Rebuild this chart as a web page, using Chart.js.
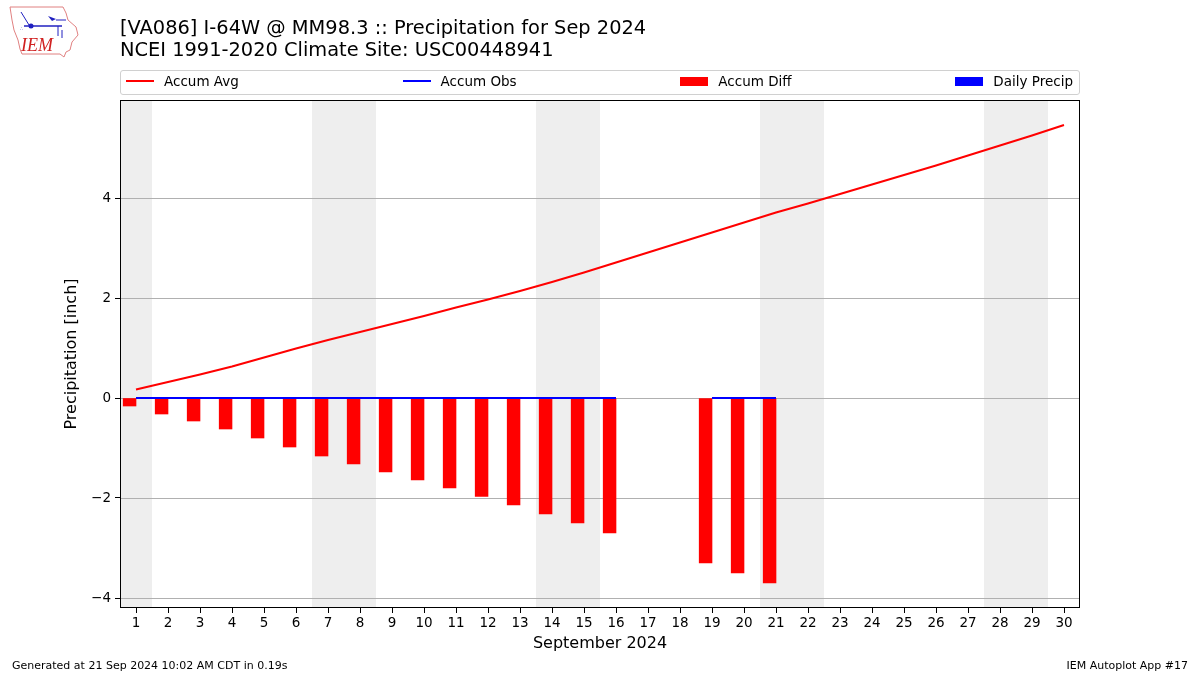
<!DOCTYPE html>
<html>
<head>
<meta charset="utf-8">
<script src="https://cdn.jsdelivr.net/npm/chart.js@4.4.1/dist/chart.umd.min.js"></script>
<style>
  body { margin: 0; background: #fff; font-family: "DejaVu Sans", sans-serif; }
  #wrap { position: relative; width: 1200px; height: 675px; overflow: hidden; }
  #chart { position: absolute; left: 0; top: 0; }
  .title { position: absolute; left: 120px; font-size: 19.4px; color: #000; white-space: nowrap; }
  #legend {
    position: absolute; left: 120px; top: 70px; width: 960px; height: 25px; box-sizing: border-box;
    border: 1px solid #d0d0d0; border-radius: 3px; display: flex; justify-content: space-between;
    align-items: center; padding: 0 6px 3px 5px; font-size: 13.5px;
  }
  .item { display: flex; align-items: center; }
  .line { width: 28px; height: 2px; margin-right: 10px; }
  .patch { width: 28px; height: 9px; margin-right: 10px; }
  .foot { position: absolute; top: 659px; font-size: 11px; color: #000; white-space: nowrap; }
</style>
</head>
<body>
<div id="wrap">
  <canvas id="chart" width="1200" height="675"></canvas>
  <svg style="position:absolute;left:0;top:0" width="90" height="62">
    <polygon points="10,7 63,7 66,13 68,20 76,27 78,35 72,42 70,50 66,52 64,57 60,54 22,54 20,49 18,40 14,30 12,20"
      fill="none" stroke="#e08080" stroke-width="1"/>
    <line x1="24" y1="26" x2="62" y2="26" stroke="#2020c0" stroke-width="1.5"/>
    <circle cx="31" cy="26" r="2.5" fill="#2020c0"/>
    <line x1="21" y1="12" x2="29" y2="25" stroke="#2020c0" stroke-width="1"/>
    <path d="M48,16 L56,19 L52,21 Z" fill="#2020c0"/>
    <line x1="56" y1="20" x2="66" y2="20" stroke="#2020c0" stroke-width="1"/>
    <line x1="58" y1="26" x2="58" y2="36" stroke="#2020c0" stroke-width="1"/>
    <line x1="62" y1="30" x2="62" y2="38" stroke="#2020c0" stroke-width="1"/>
    <text x="20" y="30" font-size="5" fill="#2020c0">&#8756;</text>
    <text x="21" y="51" font-family="Liberation Serif, serif" font-style="italic" font-size="18" fill="#d02020">IEM</text>
  </svg>
  <div class="title" style="top:16px">[VA086] I-64W @ MM98.3 :: Precipitation for Sep 2024</div>
  <div class="title" style="top:38px">NCEI 1991-2020 Climate Site: USC00448941</div>
  <div id="legend">
    <div class="item"><div class="line" style="background:#ff0000"></div>Accum Avg</div>
    <div class="item"><div class="line" style="background:#0000ff"></div>Accum Obs</div>
    <div class="item"><div class="patch" style="background:#ff0000"></div>Accum Diff</div>
    <div class="item"><div class="patch" style="background:#0000ff"></div>Daily Precip</div>
  </div>
  <div class="foot" style="left:12px">Generated at 21 Sep 2024 10:02 AM CDT in 0.19s</div>
  <div class="foot" style="right:12px">IEM Autoplot App #17</div>
</div>
<script>
// DATA
const days = [1, 2, 3, 4, 5, 6, 7, 8, 9, 10, 11, 12, 13, 14, 15, 16, 17, 18, 19, 20, 21, 22, 23, 24, 25, 26, 27, 28, 29, 30];
const accumAvg = [0.17, 0.32, 0.47, 0.63, 0.81, 0.99, 1.16, 1.32, 1.48, 1.64, 1.81, 1.97, 2.14, 2.32, 2.51,
                  2.71, 2.91, 3.11, 3.31, 3.51, 3.71, 3.89, 4.08, 4.27, 4.46, 4.65, 4.85, 5.05, 5.25, 5.46];
const accumObs = [0, 0, 0, 0, 0, 0, 0, 0, 0, 0, 0, 0, 0, 0, 0, 0, null, null, 0, 0, 0,
                  null, null, null, null, null, null, null, null, null];
const accumDiff = [-0.16, -0.32, -0.46, -0.62, -0.80, -0.98, -1.16, -1.32, -1.48, -1.64, -1.80, -1.97, -2.14, -2.32, -2.50,
                   -2.70, null, null, -3.30, -3.50, -3.70, null, null, null, null, null, null, null, null, null];
const dailyPrecip = [0, 0, 0, 0, 0, 0, 0, 0, 0, 0, 0, 0, 0, 0, 0, 0, null, null, 0, 0, 0,
                     null, null, null, null, null, null, null, null, null];
const weekendDays = [1, 7, 8, 14, 15, 21, 22, 28, 29];
const yTicks = [-4, -2, 0, 2, 4];

const FONT = "DejaVu Sans";
const DAY_W = 960 / 30;

// weekend shading behind everything
const weekendShade = {
  id: "weekendShade",
  beforeDatasetsDraw(chart) {
    const { ctx, chartArea, scales } = chart;
    ctx.save();
    ctx.fillStyle = "#eeeeee";
    weekendDays.forEach(d => {
      const x0 = scales.x.getPixelForValue(d - 0.5);
      const x1 = scales.x.getPixelForValue(d + 0.5);
      ctx.fillRect(x0, chartArea.top, x1 - x0, chartArea.bottom - chartArea.top);
    });
    ctx.restore();
  }
};

// gridlines on top of the shading
const gridOver = {
  id: "gridOver",
  beforeDatasetsDraw(chart) {
    const { ctx, chartArea, scales } = chart;
    ctx.save();
    ctx.strokeStyle = "#b0b0b0";
    ctx.lineWidth = 1;
    yTicks.forEach(v => {
      const y = Math.round(scales.y.getPixelForValue(v)) + 0.5;
      ctx.beginPath();
      ctx.moveTo(chartArea.left, y);
      ctx.lineTo(chartArea.right, y);
      ctx.stroke();
    });
    ctx.restore();
  }
};

const frame = {
  id: "frame",
  afterDraw(chart) {
    const { ctx, chartArea } = chart;
    ctx.save();
    ctx.strokeStyle = "#000";
    ctx.lineWidth = 1;
    ctx.strokeRect(chartArea.left + 0.5, chartArea.top + 0.5, chartArea.right - chartArea.left - 1, chartArea.bottom - chartArea.top - 1);
    ctx.restore();
  }
};

new Chart(document.getElementById("chart"), {
  type: "bar",
  data: {
    datasets: [
      {
        type: "line", label: "Accum Avg",
        data: days.map((d, i) => ({ x: d, y: accumAvg[i] })),
        borderColor: "#ff0000", borderWidth: 2, pointRadius: 0, tension: 0, order: 1
      },
      {
        type: "line", label: "Accum Obs",
        data: days.map((d, i) => ({ x: d, y: accumObs[i] })),
        borderColor: "#0000ff", borderWidth: 2, pointRadius: 0, tension: 0, spanGaps: false, order: 0
      },
      {
        // grouped with Daily Precip: sits on the left half of each day
        label: "Accum Diff",
        data: days.map((d, i) => ({ x: d, y: accumDiff[i] })),
        backgroundColor: "#ff0000", barThickness: DAY_W * 0.4, order: 2
      },
      {
        label: "Daily Precip",
        data: days.map((d, i) => ({ x: d, y: dailyPrecip[i] })),
        backgroundColor: c => (c.raw && c.raw.y > 0 ? "#0000ff" : "rgba(0,0,0,0)"),
        barThickness: DAY_W * 0.4, borderWidth: 0, order: 3
      }
    ]
  },
  options: {
    responsive: false,
    animation: false,
    layout: { padding: { left: 62, top: 100, right: 120, bottom: 18 } },
    plugins: { legend: { display: false }, tooltip: { enabled: false } },
    scales: {
      x: {
        type: "linear", min: 0.5, max: 30.5, offset: false,
        afterBuildTicks: s => { s.ticks = days.map(v => ({ value: v })); },
        afterFit: s => { s.height = 49; },
        grid: { offset: false, drawOnChartArea: false, drawTicks: true, tickLength: 5, tickColor: "#000" },
        border: { display: false },
        ticks: { color: "#000", font: { family: FONT, size: 13.5 }, padding: 2, maxRotation: 0, autoSkip: false },
        title: { display: true, text: "September 2024", color: "#000", font: { family: FONT, size: 16 }, padding: { top: 3, bottom: 4 } }
      },
      y: {
        min: -4.2, max: 5.96,
        afterBuildTicks: s => { s.ticks = yTicks.map(v => ({ value: v })); },
        afterFit: s => { s.width = 58; },
        grid: { drawOnChartArea: false, drawTicks: true, tickLength: 5, tickColor: "#000" },
        border: { display: false },
        ticks: {
          color: "#000", font: { family: FONT, size: 13.5 }, padding: 4,
          callback: v => String(v).replace("-", "\u2212")
        },
        title: { display: true, text: "Precipitation [inch]", color: "#000", font: { family: FONT, size: 16 }, padding: { top: 0, bottom: 4 } }
      }
    }
  },
  plugins: [weekendShade, gridOver, frame]
});
</script>
</body>
</html>
